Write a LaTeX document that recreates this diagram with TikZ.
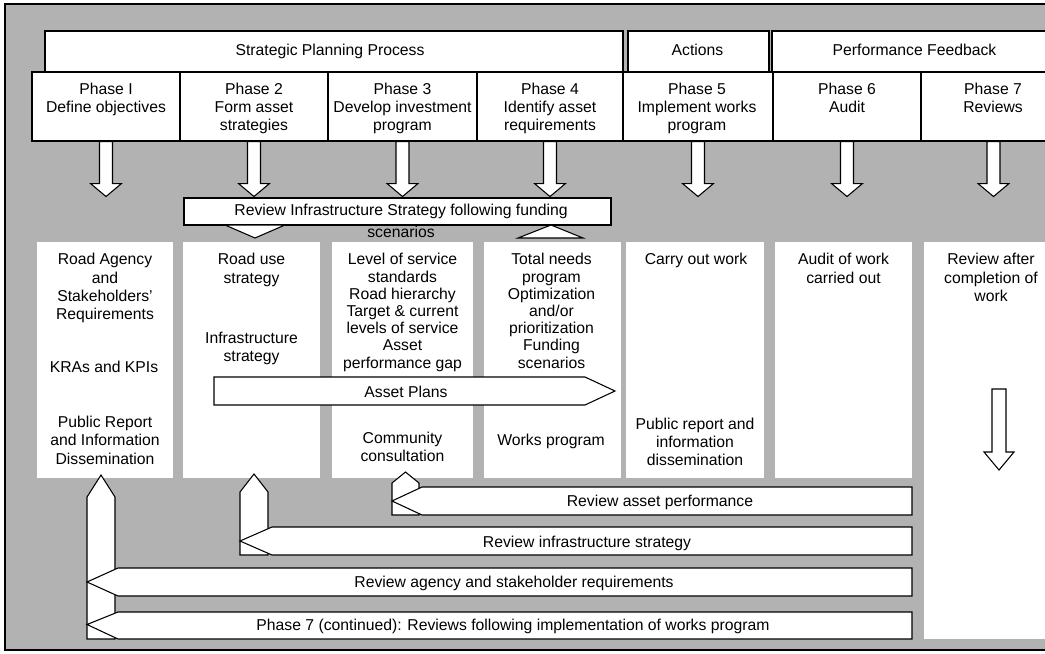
\documentclass[tikz,border=0pt]{standalone}
\usepackage{fontspec}
\setmainfont{Liberation Sans}
\usetikzlibrary{fit}
\definecolor{bg}{gray}{0.70}
\newcommand\diagfont{\fontsize{11.8}{13.65}\selectfont}
\newcommand\tightfont{\fontsize{11.8}{12.9}\selectfont}
\begin{document}
\begin{tikzpicture}[x=0.75pt,y=-0.75pt,
  box/.style={draw, fill=white, line width=0.8pt, inner sep=0pt},
  colbox/.style={fill=white, inner sep=0pt},
  txt/.style={align=center, inner sep=0pt, font=\diagfont},
  blk/.style={draw, fill=white, line width=0.8pt, line join=miter},
  downblk/.pic={\draw[blk] (-6.5,0)--(-6.5,42)--(-15.5,42)--(0,55)--(15.5,42)--(6.5,42)--(6.5,0)--cycle;}]
\useasboundingbox (0,0) rectangle (1045,653);
\clip (0,0) rectangle (1045,653);
\draw[fill=bg, line width=1.2pt] (5,4) rectangle (1070,650);

% header row
\node[box, fit={(45,31) (623,72)}] (sp) {};
\node[box, fit={(628,31) (769,72)}] (ac) {};
\node[box, fit={(772,31) (1075,72)}] (pf) {};
\node[txt, anchor=base] (spt) at (330,55.7) {Strategic Planning Process};
\node[txt, anchor=base] (act) at (697.5,55.5) {Actions};
\node[txt, anchor=base] (pft) at (914.5,55.5) {Performance Feedback};

% phase row
\node[box, fit={(32,72) (180,141)}] (p1) {};
\node[box, fit={(180,72) (328,141)}] (p2) {};
\node[box, fit={(328,72) (477,141)}] (p3) {};
\node[box, fit={(477,72) (623,141)}] (p4) {};
\node[box, fit={(623,72) (773,141)}] (p5) {};
\node[box, fit={(773,72) (921,141)}] (p6) {};
\node[box, fit={(921,72) (1066,141)}] (p7) {};
\node[txt, anchor=north] (p1t) at (106,82.7) {Phase I\\Define objectives};
\node[txt, anchor=north] (p2t) at (254,82.7) {Phase 2\\Form asset\\strategies};
\node[txt, anchor=north] (p3t) at (402.5,82.7) {Phase 3\\Develop investment\\program};
\node[txt, anchor=north] (p4t) at (550,82.7) {Phase 4\\Identify asset\\requirements};
\node[txt, anchor=north] (p5t) at (697,82.7) {Phase 5\\Implement works\\program};
\node[txt, anchor=north] (p6t) at (847,82.7) {Phase 6\\Audit};
\node[txt, anchor=north] (p7t) at (993,82.7) {Phase 7\\Reviews};

\foreach \n in {p1,p2,p3,p4,p5,p6,p7} \pic at (\n.south) {downblk};

% review infrastructure box
\node[box, fit={(184,198) (611,225)}] (rv) {};
\draw[blk] (225,225) -- (255,238) -- (285,225) -- cycle;
\draw[blk] (518,238) -- (551,225) -- (583,238) -- cycle;
\node[txt, anchor=north, font=\fontsize{11.8}{16.7}\selectfont] (rvt) at (401,203.5)
  {Review Infrastructure Strategy following funding\\scenarios};

% columns
\node[colbox, fit={(37,242) (173,478)}] (c1) {};
\node[colbox, fit={(183,242) (320,478)}] (c2) {};
\node[colbox, fit={(332,242) (473,478)}] (c3) {};
\node[colbox, fit={(484,242) (621,478)}] (c4) {};
\node[colbox, fit={(626,242) (764,478)}] (c5) {};
\node[colbox, fit={(775,242) (912,478)}] (c6) {};
\node[colbox, fit={(924,242) (1075,639)}] (c7) {};

\node[txt, anchor=north] (c1a) at (105,253.3) {Road Agency\\and\\Stakeholders'\\Requirements};
\node[txt, anchor=base] (c1b) at (104,372.7) {KRAs and KPIs};
\node[txt, anchor=north] (c1c) at (105,416) {Public Report\\and Information\\Dissemination};
\node[txt, anchor=north] (c2a) at (251.5,253.3) {Road use\\strategy};
\node[txt, anchor=north] (c2b) at (251.5,332) {Infrastructure\\strategy};
\node[txt, anchor=north, font=\tightfont] (c3a) at (402.5,253.3) {Level of service\\standards\\Road hierarchy\\Target \& current\\levels of service\\Asset\\performance gap};
\node[txt, anchor=north] (c3b) at (402.5,431.5) {Community\\consultation};
\node[txt, anchor=north, font=\tightfont] (c4a) at (551.5,253.3) {Total needs\\program\\Optimization\\and/or\\prioritization\\Funding\\scenarios};
\node[txt, anchor=base] (c4b) at (551,445) {Works program};
\node[txt, anchor=north] (c5a) at (696,253.3) {Carry out work};
\node[txt, anchor=north] (c5b) at (695,417.5) {Public report and\\information\\dissemination};
\node[txt, anchor=north] (c6a) at (843.5,253.3) {Audit of work\\carried out};
\node[txt, anchor=north] (c7a) at (991,253.3) {Review after\\completion of\\work};

% asset plans arrow
\draw[blk] (214,377) -- (585,377) -- (615,391) -- (585,405) -- (214,405) -- cycle;
\node[txt, anchor=base] (apt) at (406,397.7) {Asset Plans};

% col 7 down arrow
\draw[blk] (992,389) -- (992,452) -- (984,452) -- (999,470) -- (1014,452) -- (1006,452) -- (1006,389) -- cycle;

% feedback arrows
\draw[blk] (392,515) -- (392,483) -- (405.5,472) -- (419,483) -- (419,515) -- cycle;
\draw[blk] (912,487) -- (422,487) -- (392,501) -- (422,515) -- (912,515) -- cycle;
\draw[blk] (240,555) -- (240,492) -- (254,474) -- (268,492) -- (268,555) -- cycle;
\draw[blk] (912,527) -- (272,527) -- (240,541) -- (272,555) -- (912,555) -- cycle;
\draw[blk] (87,639) -- (87,497) -- (101,475) -- (115,497) -- (115,639) -- cycle;
\draw[blk] (912,568) -- (118,568) -- (87,582) -- (118,596) -- (912,596) -- cycle;
\draw[blk] (912,612) -- (118,612) -- (87,624.5) -- (118,639) -- (912,639) -- cycle;

\node[txt, anchor=base] (f1) at (660,506.7) {Review asset performance};
\node[txt, anchor=base] (f2) at (587,547.3) {Review infrastructure strategy};
\node[txt, anchor=base] (f3) at (514,587.3) {Review agency and stakeholder requirements};
\node[txt, anchor=base] (f4) at (513,630.7) {Phase 7 (continued): Reviews following implementation of works program};
\end{tikzpicture}
\end{document}
